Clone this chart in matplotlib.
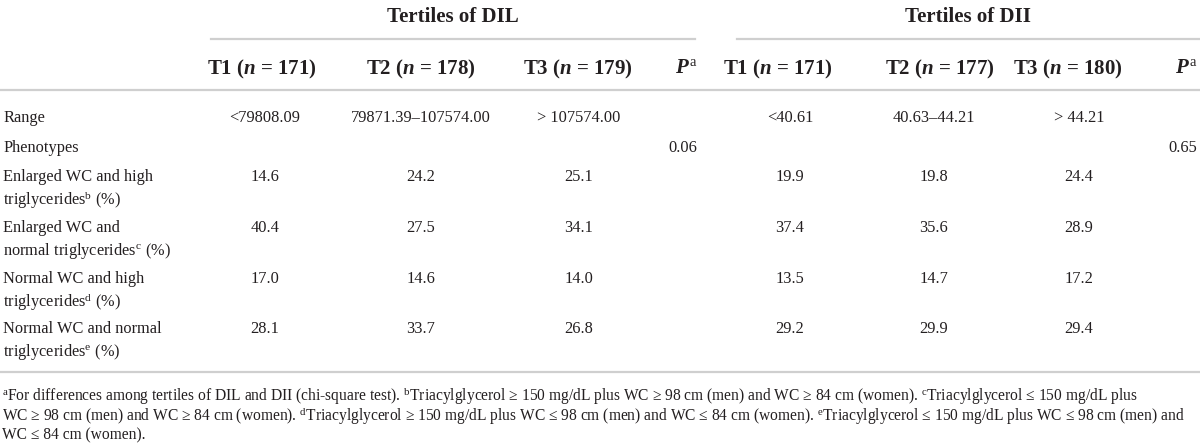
import matplotlib
matplotlib.use("Agg")
import matplotlib.pyplot as plt

# fuentes: serif tipo Minion -> Liberation Serif
plt.rcParams['font.family'] = ['Liberation Serif', 'DejaVu Serif']
plt.rcParams['mathtext.fontset'] = 'custom'
plt.rcParams['mathtext.rm'] = 'Liberation Serif'
plt.rcParams['mathtext.it'] = 'Liberation Serif:italic:bold'
plt.rcParams['mathtext.bf'] = 'Liberation Serif:bold'

# datos de la tabla
grupos = ["Tertiles of DIL", "Tertiles of DII"]
cab_dil = [r"T1 ($n$ = 171)", r"T2 ($n$ = 178)", r"T3 ($n$ = 179)"]
cab_dii = [r"T1 ($n$ = 171)", r"T2 ($n$ = 177)", r"T3 ($n$ = 180)"]
cab_p = r"$P^{\mathrm{a}}$"
rango_dil = ["<79808.09", "79871.39–107574.00", "> 107574.00"]
rango_dii = ["<40.61", "40.63–44.21", "> 44.21"]
p_dil = "0.06"
p_dii = "0.65"
fenotipos = [
    ("Enlarged WC and high", r"triglycerides$^{\mathrm{b}}$ (%)"),
    ("Enlarged WC and", r"normal triglycerides$^{\mathrm{c}}$ (%)"),
    ("Normal WC and high", r"triglycerides$^{\mathrm{d}}$ (%)"),
    ("Normal WC and normal", r"triglycerides$^{\mathrm{e}}$ (%)"),
]
vals_dil = [[14.6, 24.2, 25.1], [40.4, 27.5, 34.1], [17.0, 14.6, 14.0], [28.1, 33.7, 26.8]]
vals_dii = [[19.9, 19.8, 24.4], [37.4, 35.6, 28.9], [13.5, 14.7, 17.2], [29.2, 29.9, 29.4]]
notas = [
    r"$^{\mathrm{a}}$For differences among tertiles of DIL and DII (chi-square test). $^{\mathrm{b}}$Triacylglycerol ≥ 150 mg/dL plus WC ≥ 98 cm (men) and WC ≥ 84 cm (women). $^{\mathrm{c}}$Triacylglycerol ≤ 150 mg/dL plus",
    r"WC ≥ 98 cm (men) and WC ≥ 84 cm (women). $^{\mathrm{d}}$Triacylglycerol ≥ 150 mg/dL plus WC ≤ 98 cm (men) and WC ≤ 84 cm (women). $^{\mathrm{e}}$Triacylglycerol ≤ 150 mg/dL plus WC ≤ 98 cm (men) and",
    r"WC ≤ 84 cm (women).",
]

# posiciones (pixeles)
x_cab = [262, 421, 578, 778, 940, 1068]
x_val = [265, 421, 579, 790, 934, 1079]
x_p = [697, 1197]
y_fila = [175, 226, 277, 327]
col_txt = '#231f20'
col_lin = '#cfcfcf'
fs = 11.8
fs_cab = 15
fs_nota = 11.2

fig = plt.figure(figsize=(12, 4.46), dpi=100)
ax = fig.add_axes([0, 0, 1, 1])
ax.set_xlim(0, 1200)
ax.set_ylim(446, 0)
ax.axis('off')

# lineas
ax.plot([211, 695], [39, 39], color=col_lin, lw=1.6)
ax.plot([737, 1200], [39, 39], color=col_lin, lw=1.6)
ax.plot([0, 1200], [90, 90], color=col_lin, lw=1.6)
ax.plot([0, 1200], [372, 372], color=col_lin, lw=1.6)

# encabezados
ax.text(453, 14, grupos[0], ha='center', va='center_baseline', fontsize=fs_cab, fontweight='bold', color=col_txt)
ax.text(968, 14, grupos[1], ha='center', va='center_baseline', fontsize=fs_cab, fontweight='bold', color=col_txt)
for x, t in zip(x_cab, cab_dil + cab_dii):
    ax.text(x, 66, t, ha='center', va='center_baseline', fontsize=fs_cab, fontweight='bold', color=col_txt)
for x in x_p:
    ax.text(x, 66, cab_p, ha='right', va='center_baseline', fontsize=fs_cab, color=col_txt)

# rango y fenotipos
ax.text(3, 116, "Range", ha='left', va='center_baseline', fontsize=fs, color=col_txt)
for x, t in zip(x_val, rango_dil + rango_dii):
    ax.text(x, 116, t, ha='center', va='center_baseline', fontsize=fs, color=col_txt)
ax.text(3, 146, "Phenotypes", ha='left', va='center_baseline', fontsize=fs, color=col_txt)
ax.text(x_p[0], 146, p_dil, ha='right', va='center_baseline', fontsize=fs, color=col_txt)
ax.text(x_p[1], 146, p_dii, ha='right', va='center_baseline', fontsize=fs, color=col_txt)

for y, (l1, l2), vd, vi in zip(y_fila, fenotipos, vals_dil, vals_dii):
    ax.text(3, y, l1, ha='left', va='center_baseline', fontsize=fs, color=col_txt)
    ax.text(3, y + 22, l2, ha='left', va='center_baseline', fontsize=fs, color=col_txt)
    for x, v in zip(x_val, vd + vi):
        ax.text(x, y, f"{v:.1f}", ha='center', va='center_baseline', fontsize=fs, color=col_txt)

# notas al pie
for i, t in enumerate(notas):
    ax.text(2, 393 + 20 * i, t, ha='left', va='center_baseline', fontsize=fs_nota, color=col_txt)

fig.savefig("out.png", dpi=100, facecolor='white')
